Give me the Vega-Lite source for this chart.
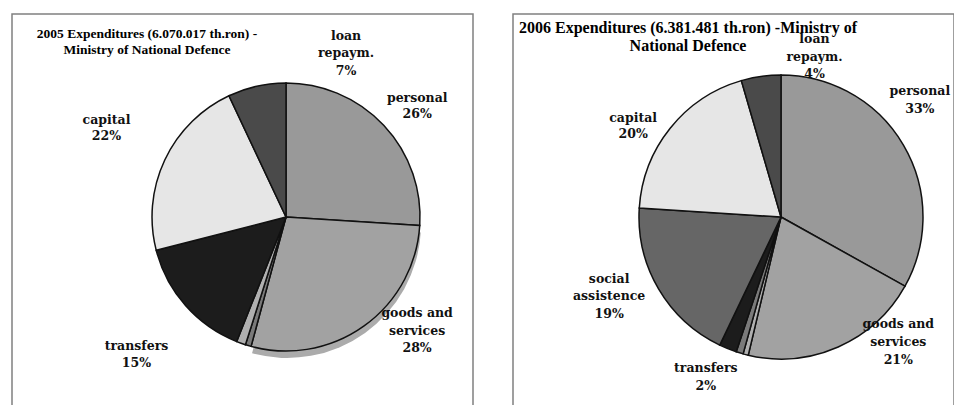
{
  "$schema": "https://vega.github.io/schema/vega-lite/v6.json",
  "background": "white",
  "padding": {"left": 11, "top": 13, "right": 0, "bottom": 0},
  "spacing": 40,
  "bounds": "flush",
  "config": {"view": {"stroke": "#808080", "strokeWidth": 1.5}},
  "data": {"values": [
    {"year": 2005, "idx": 1, "category": "personal", "value": 26, "label": "personal\n26%"},
    {"year": 2005, "idx": 2, "category": "goods and services", "value": 28.2, "label": "goods and\nservices\n28%"},
    {"year": 2005, "idx": 3, "category": "other 1", "value": 0.7, "label": ""},
    {"year": 2005, "idx": 4, "category": "other 2", "value": 1.1, "label": ""},
    {"year": 2005, "idx": 5, "category": "transfers", "value": 15, "label": "transfers\n15%"},
    {"year": 2005, "idx": 7, "category": "capital", "value": 22, "label": "capital\n22%"},
    {"year": 2005, "idx": 8, "category": "loan repaym.", "value": 7, "label": "loan\nrepaym.\n7%"},
    {"year": 2006, "idx": 1, "category": "personal", "value": 33.1, "label": "personal\n33%"},
    {"year": 2006, "idx": 2, "category": "goods and services", "value": 20.6, "label": "goods and\nservices\n21%"},
    {"year": 2006, "idx": 3, "category": "other 1", "value": 0.6, "label": ""},
    {"year": 2006, "idx": 4, "category": "other 2", "value": 0.8, "label": ""},
    {"year": 2006, "idx": 5, "category": "transfers", "value": 2.0, "label": "transfers\n2%"},
    {"year": 2006, "idx": 6, "category": "social assistence", "value": 18.9, "label": "social\nassistence\n19%"},
    {"year": 2006, "idx": 7, "category": "capital", "value": 19.5, "label": "capital\n20%"},
    {"year": 2006, "idx": 8, "category": "loan repaym.", "value": 4.5, "label": "loan\nrepaym.\n4%"}
  ]},
  "hconcat": [
    {
      "width": 461,
      "height": 406,
      "transform": [{"filter": "datum.year === 2005"}],
      "title": {"text": ["2005 Expenditures (6.070.017 th.ron) -", "Ministry of National Defence"], "orient": "none", "font": "Liberation Serif", "fontSize": 13.5, "fontWeight": "bold", "color": "#000000", "anchor": "start", "frame": "group", "align": "center", "baseline": "middle", "dx": 135, "dy": 20, "offset": 0, "lineHeight": 16},
      "encoding": {
        "x": {"datum": 2005, "type": "quantitative", "scale": {"domain": [2004.4056, 2005.4056]}, "axis": null},
        "theta": {"field": "value", "type": "quantitative", "stack": true},
        "order": {"field": "idx", "type": "quantitative"}
      },
      "layer": [
        {"mark": {"type": "arc", "radius": 134, "yOffset": 7, "xOffset": 1},
         "encoding": {"fill": {"condition": {"test": "datum.category === 'goods and services'", "value": "#ababab"}, "value": "rgba(0,0,0,0)"}}},
        {"mark": {"type": "arc", "radius": 134, "stroke": "#111111", "strokeWidth": 1.5},
         "encoding": {"color": {"field": "category", "type": "nominal", "legend": null,
           "scale": {"domain": ["personal", "goods and services", "other 1", "other 2", "transfers", "social assistence", "capital", "loan repaym."],
                     "range": ["#999999", "#a2a2a2", "#7a7a7a", "#b0b0b0", "#1c1c1c", "#666666", "#e6e6e6", "#4a4a4a"]}}}},
        {"mark": {"type": "text", "radius": 110, "dx": 51, "dy": -44, "font": "DejaVu Serif", "fontWeight": "bold", "fontSize": 12.5, "lineBreak": "\n", "lineHeight": 16, "align": "center", "baseline": "middle", "color": "#111111"},
         "encoding": {"text": {"condition": {"test": "datum.category === 'personal'", "field": "label"}, "value": ""}}},
        {"mark": {"type": "text", "radius": 110, "dx": 67, "dy": 7, "font": "DejaVu Serif", "fontWeight": "bold", "fontSize": 12.5, "lineBreak": "\n", "lineHeight": 17.5, "align": "center", "baseline": "middle", "color": "#111111"},
         "encoding": {"text": {"condition": {"test": "datum.category === 'goods and services'", "field": "label"}, "value": ""}}},
        {"mark": {"type": "text", "radius": 110, "dx": -67, "dy": 56, "font": "DejaVu Serif", "fontWeight": "bold", "fontSize": 12.5, "lineBreak": "\n", "lineHeight": 17.5, "align": "center", "baseline": "middle", "color": "#111111"},
         "encoding": {"text": {"condition": {"test": "datum.category === 'transfers'", "field": "label"}, "value": ""}}},
        {"mark": {"type": "text", "radius": 110, "dx": -80, "dy": -50, "font": "DejaVu Serif", "fontWeight": "bold", "fontSize": 12.5, "lineBreak": "\n", "lineHeight": 16, "align": "center", "baseline": "middle", "color": "#111111"},
         "encoding": {"text": {"condition": {"test": "datum.category === 'capital'", "field": "label"}, "value": ""}}},
        {"mark": {"type": "text", "radius": 110, "dx": 84, "dy": -74, "font": "DejaVu Serif", "fontWeight": "bold", "fontSize": 12.5, "lineBreak": "\n", "lineHeight": 17.5, "align": "center", "baseline": "middle", "color": "#111111"},
         "encoding": {"text": {"condition": {"test": "datum.category === 'loan repaym.'", "field": "label"}, "value": ""}}}
      ]
    },
    {
      "width": 441,
      "height": 406,
      "transform": [{"filter": "datum.year === 2006"}],
      "title": {"text": ["2006 Expenditures (6.381.481 th.ron) -Ministry of", "National Defence"], "orient": "none", "font": "Liberation Serif", "fontSize": 16, "fontWeight": "bold", "color": "#000000", "anchor": "start", "frame": "group", "align": "center", "baseline": "middle", "dx": 175, "dy": 14, "offset": 0, "lineHeight": 18},
      "encoding": {
        "x": {"datum": 2006, "type": "quantitative", "scale": {"domain": [2005.3923, 2006.3923]}, "axis": null},
        "theta": {"field": "value", "type": "quantitative", "stack": true},
        "order": {"field": "idx", "type": "quantitative"}
      },
      "layer": [
        {"mark": {"type": "arc", "radius": 142, "stroke": "#111111", "strokeWidth": 1.5},
         "encoding": {"color": {"field": "category", "type": "nominal", "legend": null,
           "scale": {"domain": ["personal", "goods and services", "other 1", "other 2", "transfers", "social assistence", "capital", "loan repaym."],
                     "range": ["#999999", "#a2a2a2", "#b0b0b0", "#7a7a7a", "#1c1c1c", "#666666", "#e6e6e6", "#4a4a4a"]}}}},
        {"mark": {"type": "text", "radius": 110, "dx": 44, "dy": -70, "font": "DejaVu Serif", "fontWeight": "bold", "fontSize": 12.5, "lineBreak": "\n", "lineHeight": 18, "align": "center", "baseline": "middle", "color": "#111111"},
         "encoding": {"text": {"condition": {"test": "datum.category === 'personal'", "field": "label"}, "value": ""}}},
        {"mark": {"type": "text", "radius": 110, "dx": 73, "dy": 6, "font": "DejaVu Serif", "fontWeight": "bold", "fontSize": 12.5, "lineBreak": "\n", "lineHeight": 18, "align": "center", "baseline": "middle", "color": "#111111"},
         "encoding": {"text": {"condition": {"test": "datum.category === 'goods and services'", "field": "label"}, "value": ""}}},
        {"mark": {"type": "text", "radius": 110, "dx": -34, "dy": 49, "font": "DejaVu Serif", "fontWeight": "bold", "fontSize": 12.5, "lineBreak": "\n", "lineHeight": 18, "align": "center", "baseline": "middle", "color": "#111111"},
         "encoding": {"text": {"condition": {"test": "datum.category === 'transfers'", "field": "label"}, "value": ""}}},
        {"mark": {"type": "text", "radius": 110, "dx": -77, "dy": 6, "font": "DejaVu Serif", "fontWeight": "bold", "fontSize": 12.5, "lineBreak": "\n", "lineHeight": 17.5, "align": "center", "baseline": "middle", "color": "#111111"},
         "encoding": {"text": {"condition": {"test": "datum.category === 'social assistence'", "field": "label"}, "value": ""}}},
        {"mark": {"type": "text", "radius": 110, "dx": -62, "dy": -30, "font": "DejaVu Serif", "fontWeight": "bold", "fontSize": 12.5, "lineBreak": "\n", "lineHeight": 16, "align": "center", "baseline": "middle", "color": "#111111"},
         "encoding": {"text": {"condition": {"test": "datum.category === 'capital'", "field": "label"}, "value": ""}}},
        {"mark": {"type": "text", "radius": 110, "dx": 49, "dy": -69, "font": "DejaVu Serif", "fontWeight": "bold", "fontSize": 12.5, "lineBreak": "\n", "lineHeight": 17.5, "align": "center", "baseline": "middle", "color": "#111111"},
         "encoding": {"text": {"condition": {"test": "datum.category === 'loan repaym.'", "field": "label"}, "value": ""}}}
      ]
    }
  ],
  "resolve": {"scale": {"x": "independent", "theta": "independent", "color": "independent"}}
}
